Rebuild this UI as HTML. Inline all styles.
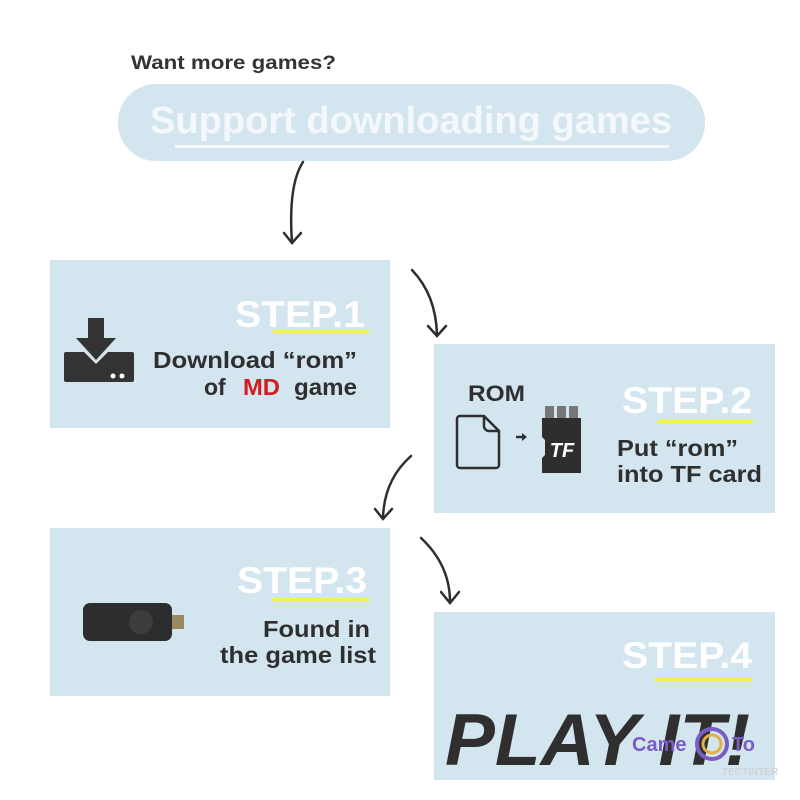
<!DOCTYPE html>
<html><head><meta charset="utf-8"><style>
html,body{margin:0;padding:0;background:#fff;}
svg{display:block;font-family:"Liberation Sans",Arial,sans-serif;}
</style></head><body>
<svg width="800" height="800" viewBox="0 0 800 800" xmlns="http://www.w3.org/2000/svg">
<rect width="800" height="800" fill="#fff"/>
<text x="131" y="69" font-size="19" font-weight="bold" fill="#333" textLength="205" lengthAdjust="spacingAndGlyphs">Want more games?</text>
<rect x="118" y="84" width="587" height="77" rx="38" fill="#d3e5ef"/>
<text x="411" y="133" text-anchor="middle" font-size="38" font-weight="bold" fill="#f4f8fb" textLength="522" lengthAdjust="spacingAndGlyphs">Support downloading games</text>
<rect x="175" y="145" width="494" height="3" fill="#f4f8fb"/>

<g fill="none" stroke="#2e2e2e" stroke-width="2.5" stroke-linecap="round">
<path d="M303 162 Q288 185 292 243"/><path d="M284 233 L292 243 L301 233"/>
<path d="M412 270 Q436 295 437 335"/><path d="M428 326 L437 336 L446 326"/>
<path d="M411 456 Q384 480 383 518"/><path d="M375 509 L383 519 L392 509"/>
<path d="M421 538 Q450 565 450 602"/><path d="M441 592 L450 603 L459 592"/>
</g>

<!-- Box 1 -->
<rect x="50" y="260" width="340" height="168" fill="#d3e5ef"/>
<text x="235" y="327" font-size="37" font-weight="bold" fill="#fff" textLength="130" lengthAdjust="spacingAndGlyphs">STEP.1</text>
<rect x="273" y="330" width="96" height="4" fill="#eef25a"/>
<text x="153" y="368" font-size="23" font-weight="bold" fill="#2f2f2f" textLength="204" lengthAdjust="spacingAndGlyphs">Download “rom”</text>
<text x="204" y="395" font-size="23" font-weight="bold" fill="#2f2f2f">of</text>
<text x="243" y="395" font-size="23" font-weight="bold" fill="#d8191f" textLength="37" lengthAdjust="spacingAndGlyphs">MD</text>
<text x="294" y="395" font-size="23" font-weight="bold" fill="#2f2f2f" textLength="63" lengthAdjust="spacingAndGlyphs">game</text>
<g fill="#333">
<rect x="88" y="318" width="16" height="22"/>
<path d="M76 338 L116 338 L96 360 Z"/>
<path d="M64 352 h20 l12 12 l12 -12 h24 a2 2 0 0 1 2 2 v26 a2 2 0 0 1 -2 2 h-66 a2 2 0 0 1 -2 -2 v-26 a2 2 0 0 1 2 -2z"/>
</g>
<circle cx="113" cy="376" r="2.5" fill="#fff"/><circle cx="122" cy="376" r="2.5" fill="#fff"/>

<!-- Box 2 -->
<rect x="434" y="344" width="341" height="169" fill="#d3e5ef"/>
<text x="622" y="413" font-size="37" font-weight="bold" fill="#fff" textLength="130" lengthAdjust="spacingAndGlyphs">STEP.2</text>
<rect x="658" y="419" width="95" height="4" fill="#eef25a"/>
<text x="617" y="456" font-size="23" font-weight="bold" fill="#2f2f2f" textLength="121" lengthAdjust="spacingAndGlyphs">Put “rom”</text>
<text x="617" y="482" font-size="23" font-weight="bold" fill="#2f2f2f" textLength="145" lengthAdjust="spacingAndGlyphs">into TF card</text>
<text x="468" y="401" font-size="22" font-weight="bold" fill="#2f2f2f" textLength="57" lengthAdjust="spacingAndGlyphs">ROM</text>
<path d="M460 416 h24 l15 15 v34 a3 3 0 0 1 -3 3 h-36 a3 3 0 0 1 -3 -3 v-46 a3 3 0 0 1 3 -3z M484 416 v10 a5 5 0 0 0 5 5 h10" fill="none" stroke="#2e2e2e" stroke-width="2.5"/>
<path d="M516 437 h7" stroke="#2e2e2e" stroke-width="2.5"/><path d="M522 433 l5 4 l-5 4z" fill="#2e2e2e"/>
<rect x="545" y="406" width="9" height="12" fill="#777"/><rect x="557" y="406" width="9" height="12" fill="#777"/><rect x="569" y="406" width="9" height="12" fill="#777"/>
<path d="M542 418 h39 v55 h-39 v-15 l3 -3 v-15 l-3 -3z" fill="#2e2e2e"/>
<text x="562" y="457" text-anchor="middle" font-size="20" font-weight="bold" font-style="italic" fill="#fff">TF</text>

<!-- Box 3 -->
<rect x="50" y="528" width="340" height="168" fill="#d3e5ef"/>
<text x="237" y="593" font-size="37" font-weight="bold" fill="#fff" textLength="130" lengthAdjust="spacingAndGlyphs">STEP.3</text>
<rect x="272" y="598" width="97" height="4" fill="#eef25a"/>
<text x="263" y="637" font-size="23" font-weight="bold" fill="#2f2f2f" textLength="107" lengthAdjust="spacingAndGlyphs">Found in</text>
<text x="220" y="663" font-size="23" font-weight="bold" fill="#2f2f2f" textLength="156" lengthAdjust="spacingAndGlyphs">the game list</text>
<rect x="83" y="603" width="89" height="38" rx="7" fill="#2b2d2e"/>
<circle cx="141" cy="622" r="12" fill="#3b3d3e"/>
<rect x="172" y="615" width="12" height="14" fill="#9a8860"/>

<!-- Box 4 -->
<rect x="434" y="612" width="341" height="168" fill="#d3e5ef"/>
<text x="622" y="668" font-size="37" font-weight="bold" fill="#fff" textLength="130" lengthAdjust="spacingAndGlyphs">STEP.4</text>
<rect x="655" y="677" width="97" height="5" fill="#eef25a"/>
<text x="445" y="765" font-size="73" font-weight="bold" font-style="italic" fill="#2f2f2f" textLength="305" lengthAdjust="spacingAndGlyphs">PLAY IT!</text>
<text x="632" y="751" font-size="20" font-weight="bold" fill="#7a5cc4">Came</text>
<circle cx="712" cy="744" r="15" fill="none" stroke="#7a5cc4" stroke-width="4"/>
<circle cx="712" cy="744" r="9" fill="none" stroke="#e0b040" stroke-width="3"/>
<text x="732" y="751" font-size="20" font-weight="bold" fill="#7a5cc4">To</text>
<text x="722" y="775" font-size="10" fill="#ccc">TECTINTER</text>
</svg>
</body></html>
